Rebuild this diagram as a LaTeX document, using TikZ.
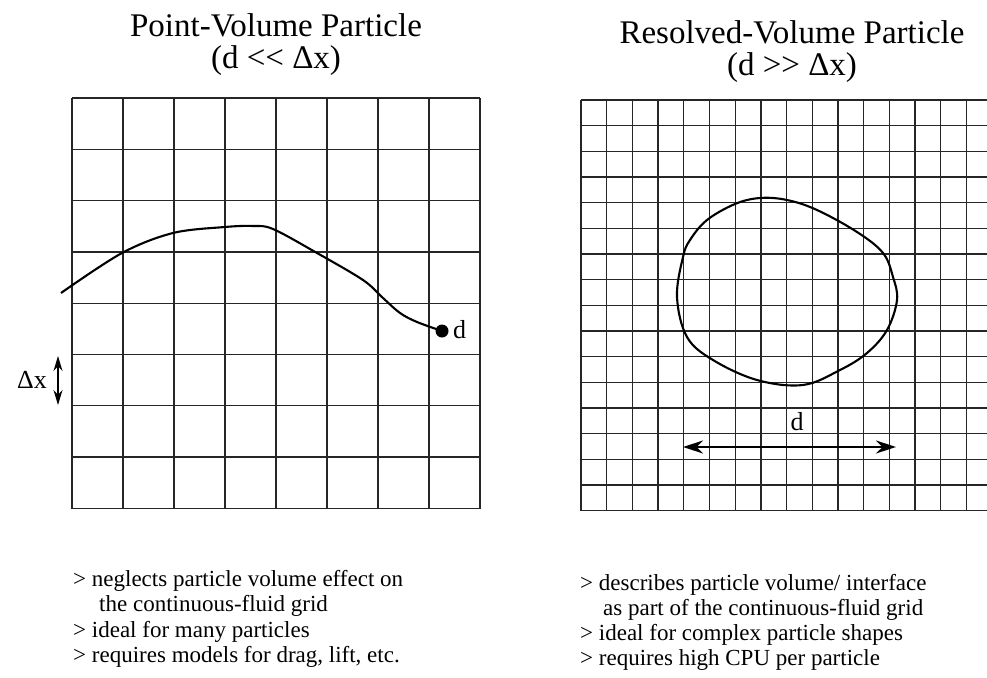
\documentclass[tikz,border=0pt]{standalone}
\usepackage{fontspec}
\setmainfont{Liberation Serif}
\usetikzlibrary{arrows.meta}
\begin{document}
\begin{tikzpicture}[x=1pt,y=-1pt,
  gridline/.style={line width=1.3pt, black!85},
  curveline/.style={line width=2.1pt, black},
  titletext/.style={inner sep=0pt, font=\fontsize{33}{33}\selectfont},
  bullettext/.style={inner sep=0pt, anchor=base west, font=\fontsize{23}{25}\selectfont},
  labeltext/.style={inner sep=0pt, font=\fontsize{26}{26}\selectfont},
  dimarrow/.style={line width=1.6pt, {Stealth[length=20pt,width=13pt]}-{Stealth[length=20pt,width=13pt]}},
  smallarrow/.style={line width=1.4pt, {Stealth[length=15pt,width=9pt]}-{Stealth[length=15pt,width=9pt]}}
]
\useasboundingbox (0,0) rectangle (987,677);
\fill[white] (0,0) rectangle (987,677);

% ---------- titles ----------
\node[titletext, anchor=base] (t1a) at (276,37) {Point-Volume Particle};
\node[titletext, anchor=base] (t1b) at (276,68) {(d <\kern0pt< Δx)};
\node[titletext, anchor=base] (t2a) at (792,44) {Resolved-Volume Particle};
\node[titletext, anchor=base] (t2b) at (792,75) {(d >\kern0pt> Δx)};

% ---------- left grid ----------
\foreach \i in {0,...,8} {
  \draw[gridline] ({72+51*\i},98) -- ({72+51*\i},508.5);
}
\foreach \j in {0,...,8} {
  \draw[gridline] (72,{98+51.3*\j}) -- (480,{98+51.3*\j});
}

% ---------- right grid ----------
\foreach \i in {0,...,15} {
  \draw[gridline] ({581+25.7*\i},100) -- ({581+25.7*\i},510.7);
}
\foreach \j in {0,...,16} {
  \draw[gridline] (581,{100+25.67*\j}) -- (987,{100+25.67*\j});
}

% ---------- left: trajectory and point particle ----------
\draw[curveline] plot[smooth, tension=0.55] coordinates {
  (61,293) (122,253) (173,233) (225,227) (253,226) (273,229)
  (317,253) (363,280) (383,298) (400,313) (417,322) (442,331)};
\node[circle, fill=black, inner sep=0pt, minimum size=13pt] (dot) at (442,331) {};
\node[labeltext, anchor=base west] (dlab) at (453,338) {d};

% Delta x marker
\node[labeltext, anchor=base east] (dxlab) at (47,388) {Δx};
\coordinate (dxtop) at (58,356);
\coordinate (dxbot) at (58,405);
\draw[smallarrow] (dxtop) -- (dxbot);

% ---------- right: resolved particle ----------
\draw[curveline] plot[smooth cycle, tension=0.6] coordinates {
  (760,198) (787,200) (817,210) (857,232) (883,253) (893,277) (897,300)
  (887,330) (867,353) (840,370) (803,385) (757,380) (713,360) (687,337)
  (677,297) (683,257) (690,240) (707,220) (735,204)};
\node[labeltext, anchor=base] (dlab2) at (797,430) {d};
\coordinate (dl) at (683,447);
\coordinate (dr) at (896,447);
\draw[dimarrow] (dl) -- (dr);

% ---------- bullet texts ----------
\node[bullettext] (l1) at (73,586) {> neglects particle volume effect on};
\node[bullettext] (l2) at (99,611.5) {the continuous-fluid grid};
\node[bullettext] (l3) at (73,637) {> ideal for many particles};
\node[bullettext] (l4) at (73,662) {> requires models for drag, lift, etc.};

\node[bullettext] (r1) at (580,590) {> describes particle volume/ interface};
\node[bullettext] (r2) at (603,615) {as part of the continuous-fluid grid};
\node[bullettext] (r3) at (580,640) {> ideal for complex particle shapes};
\node[bullettext] (r4) at (580,665) {> requires high CPU per particle};
\end{tikzpicture}
\end{document}
